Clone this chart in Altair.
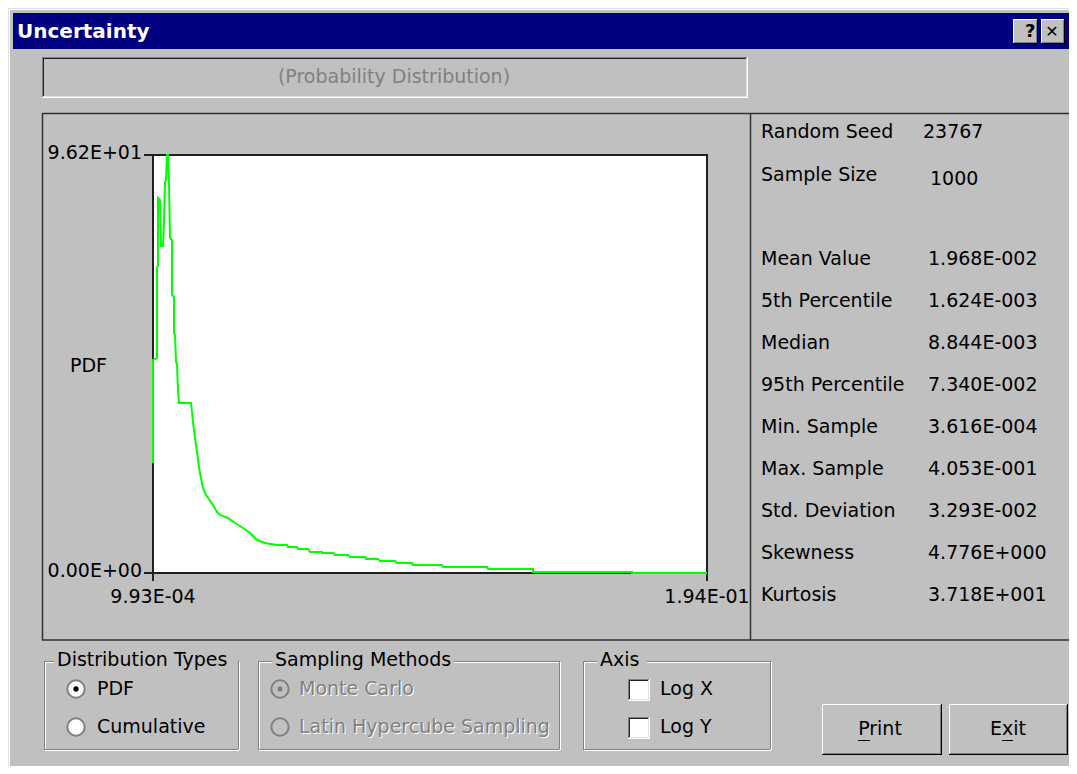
import altair as alt
import pandas as pd

# ---------------- data ----------------
pdf_x = [0.000993, 0.000993, 0.002387, 0.002387, 0.002735, 0.002735, 0.003432, 0.003780,
         0.004477, 0.004825, 0.005174, 0.005522, 0.005871, 0.006219, 0.006567, 0.006916,
         0.007612, 0.007612, 0.008309, 0.008309, 0.008658, 0.009006, 0.009355, 0.009703,
         0.010051, 0.014232, 0.014929, 0.015625, 0.016322, 0.017019, 0.017716, 0.018413,
         0.019109, 0.020154, 0.021896, 0.023290, 0.024335, 0.027122, 0.029561, 0.032348,
         0.034787, 0.037226, 0.040013, 0.044193, 0.047677, 0.048026, 0.051161, 0.051510,
         0.054994, 0.055690, 0.059871, 0.059871, 0.063703, 0.064400, 0.068929, 0.069626,
         0.074852, 0.075200, 0.079381, 0.080078, 0.085304, 0.086000, 0.091226, 0.091574,
         0.101678, 0.102026, 0.117355, 0.117704, 0.133381, 0.133381, 0.167872, 0.167872,
         0.194000]
pdf_y = [25.32, 49.02, 49.48, 70.19, 70.65, 86.30, 85.84, 75.26,
         75.26, 80.78, 89.98, 90.45, 96.20, 96.20, 89.98, 77.10,
         76.64, 63.98, 63.52, 55.23, 54.77, 48.56, 48.10, 42.12,
         39.12, 39.12, 34.75, 31.07, 27.85, 24.39, 21.86, 19.56,
         18.41, 17.26, 15.65, 14.04, 13.35, 12.66, 11.51, 10.36,
         9.21, 7.59, 6.90, 6.44, 6.44, 5.98, 5.98, 5.52,
         5.52, 4.83, 4.83, 4.60, 4.60, 4.14, 4.14, 3.68,
         3.68, 3.22, 3.22, 2.76, 2.76, 2.30, 2.30, 1.84,
         1.84, 1.38, 1.38, 0.92, 0.92, 0.23, 0.23, 0.0,
         0.0]

x_ticks = [0.000993, 0.194]
x_tick_labels = ["9.93E-04", "1.94E-01"]
y_ticks = [0.0, 96.2]
y_tick_labels = ["0.00E+00", "9.62E+01"]

seed_value = "23767"
sample_size = "1000"
stat_names = ["Mean Value", "5th Percentile", "Median", "95th Percentile", "Min. Sample",
              "Max. Sample", "Std. Deviation", "Skewness", "Kurtosis"]
stat_values = ["1.968E-002", "1.624E-003", "8.844E-003", "7.340E-002", "3.616E-004",
               "4.053E-001", "3.293E-002", "4.776E+000", "3.718E+001"]

# ---------------- layout helpers ----------------
OFF = 8
FONT = "DejaVu Sans"
FS = 19
GRAY = "#c0c0c0"
DARK = "#808080"
BLACK = "#000000"
WHITE = "#ffffff"
NAVY = "#000080"

def P(v):
    return v - OFF

layers = []
base = alt.Chart(pd.DataFrame({"d": [0]}))

def rect(x0, y0, x1, y1, fill):
    layers.append(base.mark_rect(fill=fill, strokeWidth=0).encode(
        x=alt.value(P(x0)), x2=alt.value(P(x1)), y=alt.value(P(y0)), y2=alt.value(P(y1))))

def line(x0, y0, x1, y1, color, w=1):
    layers.append(base.mark_rule(color=color, strokeWidth=w).encode(
        x=alt.value(P(x0)), x2=alt.value(P(x1)), y=alt.value(P(y0)), y2=alt.value(P(y1))))

def text(x, y, s, size=FS, color=BLACK, align="left", weight="normal"):
    layers.append(base.mark_text(text=s, align=align, baseline="middle", fontSize=size,
                                 font=FONT, color=color, fontWeight=weight).encode(
        x=alt.value(P(x)), y=alt.value(P(y))))

def raised(x0, y0, x1, y1):
    rect(x0, y0, x1, y1, GRAY)
    line(x0, y0 + 0.5, x1, y0 + 0.5, WHITE)
    line(x0 + 0.5, y0, x0 + 0.5, y1, WHITE)
    line(x0, y1 - 0.5, x1, y1 - 0.5, BLACK)
    line(x1 - 0.5, y0, x1 - 0.5, y1, BLACK)
    line(x0 + 1, y1 - 1.5, x1 - 1, y1 - 1.5, DARK)
    line(x1 - 1.5, y0 + 1, x1 - 1.5, y1 - 1, DARK)

def sunken(x0, y0, x1, y1, fill=GRAY):
    rect(x0, y0, x1, y1, fill)
    line(x0, y0 + 0.5, x1, y0 + 0.5, DARK)
    line(x0 + 0.5, y0, x0 + 0.5, y1, DARK)
    line(x0 + 1, y0 + 1.5, x1 - 1, y0 + 1.5, "#202020")
    line(x0 + 1.5, y0 + 1, x0 + 1.5, y1 - 1, "#202020")
    line(x0, y1 - 0.5, x1, y1 - 0.5, WHITE)
    line(x1 - 0.5, y0, x1 - 0.5, y1, WHITE)
    line(x0 + 1, y1 - 1.5, x1 - 1, y1 - 1.5, "#dfdfdf")
    line(x1 - 1.5, y0 + 1, x1 - 1.5, y1 - 1, "#dfdfdf")

def etched(x0, y0, x1, y1):
    for d, c in ((1, WHITE), (0, DARK)):
        line(x0 + d, y0 + 0.5 + d, x1 + d, y0 + 0.5 + d, c)
        line(x0 + 0.5 + d, y0 + d, x0 + 0.5 + d, y1 + d, c)
        line(x0 + d, y1 + 0.5 + d, x1 + d, y1 + 0.5 + d, c)
        line(x1 + 0.5 + d, y0 + d, x1 + 0.5 + d, y1 + d, c)

def group(x0, y0, x1, y1, label, lx, lw):
    etched(x0, y0, x1, y1)
    rect(lx - 3, y0 - 4, lx + lw + 3, y0 + 4, GRAY)
    text(lx, y0 - 1, label)

def radio(cx, cy, selected=False, enabled=True):
    fill = WHITE if enabled else GRAY
    layers.append(base.mark_point(shape="circle", size=300, filled=False, fill=fill,
                                  stroke=DARK, strokeWidth=2, opacity=1).encode(
        x=alt.value(P(cx)), y=alt.value(P(cy))))
    if selected:
        layers.append(base.mark_point(shape="circle", size=28, filled=True,
                                      color=BLACK if enabled else DARK, opacity=1).encode(
            x=alt.value(P(cx)), y=alt.value(P(cy))))

def disabled_text(x, y, s):
    text(x + 1, y + 1, s, color=WHITE)
    text(x, y, s, color=DARK)

# ---------------- dialog chrome ----------------
line(8, 8.5, 1069, 8.5, "#dfdfdf")
line(8.5, 8, 8.5, 766, "#dfdfdf")
line(9, 9.5, 1069, 9.5, WHITE)
line(9.5, 9, 9.5, 766, WHITE)
rect(13, 13, 1069, 49, NAVY)
text(17, 32, "Uncertainty", size=20, color=WHITE, weight="bold")
raised(1013, 19, 1038, 44)
text(1025, 32, "?", size=18, weight="bold")
raised(1041, 19, 1065, 44)
text(1052, 32, "✕", size=16, weight="bold", align="center")

# probability distribution caption box
sunken(42, 57, 748, 98)
text(394, 77, "(Probability Distribution)", color=DARK, align="center")

# main panel
line(42, 113.5, 1069, 113.5, "#303030", 1.5)
line(42.5, 113, 42.5, 640, "#303030", 1.5)
line(42, 640, 1069, 640, "#303030", 1.5)
line(750.5, 113, 750.5, 640, "#303030", 1.5)

# plot area
rect(153, 155, 707, 573, WHITE)

xs = alt.Scale(domain=[x_ticks[0], x_ticks[1]], range=[P(153), P(707)], nice=False, zero=False)
ys = alt.Scale(domain=[y_ticks[0], y_ticks[1]], range=[P(573), P(155)], nice=False, zero=False)

xt_df = pd.DataFrame({"v": x_ticks, "label": x_tick_labels})
yt_df = pd.DataFrame({"v": y_ticks, "label": y_tick_labels})

layers.append(alt.Chart(xt_df).mark_rule(color="#202020", strokeWidth=2).encode(
    x=alt.X("v:Q", scale=xs, axis=None), y=alt.value(P(155)), y2=alt.value(P(581))))
layers.append(alt.Chart(yt_df).mark_rule(color="#202020", strokeWidth=2).encode(
    y=alt.Y("v:Q", scale=ys, axis=None), x=alt.value(P(144)), x2=alt.value(P(708))))

curve_df = pd.DataFrame({"x": pdf_x, "y": pdf_y, "i": list(range(len(pdf_x)))})
layers.append(alt.Chart(curve_df).mark_line(color="#00ff00", strokeWidth=2).encode(
    x=alt.X("x:Q", scale=xs, axis=None),
    y=alt.Y("y:Q", scale=ys, axis=None),
    order=alt.Order("i:Q")))

layers.append(alt.Chart(xt_df).mark_text(font=FONT, fontSize=FS, color=BLACK, baseline="middle",
                                         align="center").encode(
    x=alt.X("v:Q", scale=xs, axis=None), y=alt.value(P(597)), text="label:N"))
layers.append(alt.Chart(yt_df).mark_text(font=FONT, fontSize=FS, color=BLACK, baseline="middle",
                                         align="right", dy=-2).encode(
    y=alt.Y("v:Q", scale=ys, axis=None), x=alt.value(P(142)), text="label:N"))

text(70, 366, "PDF")

# statistics panel
text(761, 132, "Random Seed")
text(923, 132, seed_value)
text(761, 175, "Sample Size")
text(930, 179, sample_size)
for i, (n, v) in enumerate(zip(stat_names, stat_values)):
    yy = 259 + 42 * i
    text(761, yy, n)
    text(928, yy, v)

# group boxes
group(44, 661, 238, 749, "Distribution Types", 57, 178)
radio(76, 689, selected=True)
text(97, 689, "PDF")
radio(76, 727)
text(97, 727, "Cumulative")

group(258, 661, 559, 749, "Sampling Methods", 275, 176)
radio(280, 689, selected=True, enabled=False)
disabled_text(299, 689, "Monte Carlo")
radio(280, 727, enabled=False)
disabled_text(299, 727, "Latin Hypercube Sampling")

group(583, 661, 770, 749, "Axis", 600, 44)
sunken(628, 679, 650, 701, WHITE)
text(660, 689, "Log X")
sunken(628, 717, 650, 739, WHITE)
text(660, 727, "Log Y")

# buttons
raised(822, 704, 942, 755)
text(880, 729, "Print", align="center")
line(858, 740.5, 870, 740.5, BLACK)
raised(949, 704, 1068, 755)
text(1008, 729, "Exit", align="center")
line(1002, 740.5, 1013, 740.5, BLACK)

chart = alt.layer(*layers).properties(
    width=1061, height=758, padding=0, autosize="none", background=GRAY
).configure_view(stroke=None)

chart.save("out.html", embed_options={"renderer": "svg", "actions": False})
